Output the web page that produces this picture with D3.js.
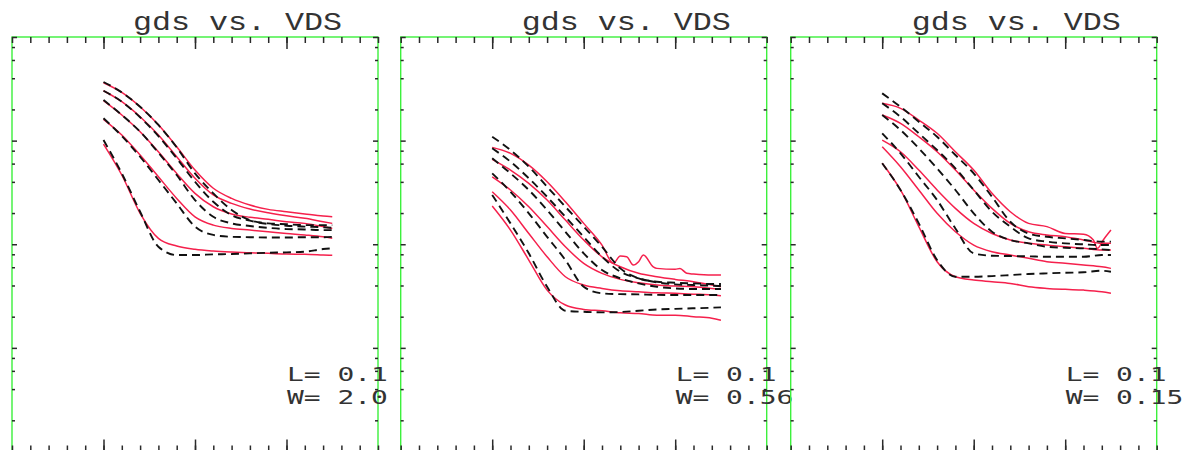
<!DOCTYPE html>
<html><head><meta charset="utf-8">
<script src="https://cdn.jsdelivr.net/npm/d3@7"></script>
<style>body{margin:0;background:#fff;} svg{display:block;overflow:visible}</style>
</head><body>
<svg id="c" width="1184" height="450"></svg>
<script>
// ---------- data ----------
const chartTitle = "gds vs. VDS";
const labelL = ["0.1", "0.1", "0.1"];
const labelW = ["2.0", "0.56", "0.15"];

// VDS (V) sweep grid shared by most curves
const vdsGrid = [0.5, 0.6, 0.7, 0.8, 0.9, 1.0, 1.1, 1.2, 1.3, 1.4, 1.5, 1.6, 1.7, 1.75];

// gds (uS) — panel 1 (W = 2.0), measured (red) and model (black dashed)
const p1Meas = [
  [3620, 2920, 2120, 1420, 873, 520, 347, 277, 239, 217, 206, 196, 187, 184],
  [3030, 2375, 1700, 1133, 699, 433, 299, 248, 219, 201, 188, 178, 165, 159],
  [2430, 1767, 1219, 781, 483, 310, 230, 196, 182, 174, 165, 159, 148, 142],
  [1606, 1133, 726, 448, 277, 184, 153, 142, 137, 132, 127, 123, 118, 114],
  [927, 466, 199, 114, 96.1, 89.3, 86.0, 84.1, 82.8, 81.7, 80.4, 79.9, 78.7, 78.1]
];
const p1Model = [
  [3680, 2920, 2120, 1416, 861, 483, 310, 214, 171, 159, 156, 153, 153, 153],
  [3030, 2375, 1679, 1108, 675, 401, 257, 191, 169, 157, 151, 148, 146, 144],
  [2466, 1767, 1219, 764, 466, 267, 184, 159, 150, 144, 140, 139, 137, 137],
  [1642, 1108, 699, 417, 248, 148, 123, 118, 117, 116, 116, 117, 117, 118],
  [1013, 483, 206, 94.6, 78.7, 78.7, 79.9, 80.4, 81.7, 82.8, 83.5, 84.7, 89.9, 91.3]
];

// panel 2 (W = 0.56)
const p2TopVds = [0.5, 0.6, 0.7, 0.8, 0.9, 1.0, 1.1, 1.162, 1.2, 1.235, 1.271, 1.3, 1.326, 1.38, 1.4, 1.5, 1.526, 1.563, 1.6, 1.7, 1.75];
const p2MeasTop = [861, 754, 581, 401, 257, 159, 98.2, 65.4, 76.9, 75.7, 63.0, 67.8, 78.7, 60.6, 58.5, 57.3, 58.5, 52.4, 51.6, 50.4, 50.4];
const p2Meas = [
  [660, 520, 387, 267, 171, 110, 75.7, 60.6, 52.4, 48.6, 45.8, 43.5, 40.4, 38.9],
  [448, 334, 230, 148, 94.6, 65.4, 52.4, 45.8, 42.5, 40.4, 39.5, 38.9, 37.5, 36.7],
  [321, 214, 127, 75.7, 48.6, 40.4, 37.5, 35.6, 34.8, 34.0, 33.6, 33.0, 32.4, 31.8],
  [234, 137, 70.4, 36.1, 25.9, 23.5, 22.8, 21.8, 21.5, 20.7, 20.7, 20.0, 19.3, 18.5]
];
const p2Model = [
  [1090, 811, 560, 359, 230, 148, 94.6, 58.5, 46.9, 43.5, 42.5, 41.9, 41.3, 41.3],
  [843, 626, 433, 287, 184, 118, 75.7, 54.3, 46.9, 42.9, 41.0, 40.4, 39.8, 39.5],
  [675, 483, 334, 214, 132, 81.7, 56.4, 46.9, 41.9, 38.9, 37.5, 37.0, 37.0, 37.0],
  [483, 321, 199, 118, 70.4, 38.9, 33.6, 33.0, 32.8, 32.5, 32.4, 32.4, 32.4, 32.4],
  [299, 159, 81.7, 38.9, 22.8, 22.3, 22.0, 22.2, 22.8, 23.5, 23.8, 24.1, 24.4, 24.6]
];

// panel 3 (W = 0.15)
const p3TopVds = [0.5, 0.6, 0.7, 0.8, 0.9, 1.0, 1.1, 1.2, 1.3, 1.4, 1.5, 1.6, 1.654, 1.676, 1.708, 1.75];
const p3MeasTop = [2291, 2050, 1581, 1177, 781, 520, 310, 206, 159, 148, 127, 125, 110, 91.3, 110, 137];
const p3Meas = [
  [1767, 1469, 1090, 781, 520, 334, 222, 159, 132, 123, 118, 110, 102, 102],
  [1013, 781, 520, 334, 222, 159, 127, 110, 102, 98.2, 94.6, 91.3, 87.9, 87.9],
  [873, 560, 334, 199, 132, 98.2, 84.7, 78.7, 73.1, 67.8, 65.4, 63.0, 60.6, 58.5],
  [604, 334, 148, 67.8, 48.6, 45.1, 43.5, 41.9, 38.9, 37.5, 36.7, 36.1, 34.8, 33.6]
];
const p3Model = [
  [2860, 2120, 1522, 1090, 726, 483, 287, 165, 127, 118, 114, 110, 106, 106],
  [2291, 1700, 1177, 811, 540, 334, 206, 148, 114, 106, 102, 99.8, 98.2, 98.2],
  [1767, 1266, 843, 540, 334, 199, 132, 110, 102, 94.6, 92.5, 91.3, 89.3, 87.9],
  [1177, 754, 448, 267, 142, 81.7, 77.5, 76.9, 76.4, 75.7, 75.7, 75.7, 78.7, 78.7],
  [604, 334, 159, 70.4, 48.6, 48.6, 49.3, 50.4, 51.6, 52.4, 53.1, 53.6, 55.5, 54.3]
];

// axis tick values
const xMinorTicks = d3.range(0, 21).map(i => i / 10);
const xMajorTicks = [0.5, 1.0, 1.5];
const yMajorTicks = [1, 10, 100, 1000, 10000];
const yMinorTicks = [1, 10, 100, 1000].flatMap(d => [2, 4, 6, 8].map(m => m * d));

// ---------- build panels ----------
const zip = (xs, ys) => xs.map((v, i) => [v, ys[i]]);
const panels = [
  { meas: p1Meas.map(s => zip(vdsGrid, s)), model: p1Model.map(s => zip(vdsGrid, s)) },
  { meas: [zip(p2TopVds, p2MeasTop)].concat(p2Meas.map(s => zip(vdsGrid, s))), model: p2Model.map(s => zip(vdsGrid, s)) },
  { meas: [zip(p3TopVds, p3MeasTop)].concat(p3Meas.map(s => zip(vdsGrid, s))), model: p3Model.map(s => zip(vdsGrid, s)) }
];

const svg = d3.select("#c");
const lefts = [12, 400.7, 790.7];
const PW = 366, topY = 37, PH = 414.5;
const x = d3.scaleLinear().domain([0, 2]).range([0, PW]);
const y = d3.scaleLog().domain([1, 10000]).range([PH, 0]);
const line = d3.line().x(d => x(d[0])).y(d => y(d[1])).curve(d3.curveMonotoneX);
const tickCol = "#2a2a2a";
const monoFont = "Liberation Mono, DejaVu Sans Mono, monospace";
const labelFont = "DejaVu Sans Mono, Liberation Mono, monospace";

function styleAxis(g) {
  g.select(".domain").remove();
  g.selectAll("line").attr("stroke", tickCol).attr("stroke-width", 1.5);
  g.selectAll("text").remove();
}

panels.forEach((p, i) => {
  const g = svg.append("g").attr("transform", `translate(${lefts[i]},${topY})`);

  g.append("rect").attr("x", 0).attr("y", 0).attr("width", PW).attr("height", PH)
    .attr("fill", "none").attr("stroke", "#3cf03c").attr("stroke-width", 1.4);

  g.append("g").call(d3.axisBottom(x).tickValues(xMinorTicks).tickSize(6).tickFormat("")).call(styleAxis);
  g.append("g").call(d3.axisBottom(x).tickValues(xMajorTicks).tickSize(12).tickFormat("")).call(styleAxis);
  g.append("g").attr("transform", `translate(0,${PH})`).call(d3.axisTop(x).tickValues(xMinorTicks).tickSize(6).tickFormat("")).call(styleAxis);
  g.append("g").attr("transform", `translate(0,${PH})`).call(d3.axisTop(x).tickValues(xMajorTicks).tickSize(12).tickFormat("")).call(styleAxis);
  g.append("g").call(d3.axisRight(y).tickValues(yMinorTicks).tickSize(3).tickFormat("")).call(styleAxis);
  g.append("g").call(d3.axisRight(y).tickValues(yMajorTicks).tickSize(5).tickFormat("")).call(styleAxis);
  g.append("g").attr("transform", `translate(${PW},0)`).call(d3.axisLeft(y).tickValues(yMinorTicks).tickSize(3).tickFormat("")).call(styleAxis);
  g.append("g").attr("transform", `translate(${PW},0)`).call(d3.axisLeft(y).tickValues(yMajorTicks).tickSize(5).tickFormat("")).call(styleAxis);

  g.selectAll(".meas").data(p.meas).join("path").attr("class", "meas")
    .attr("d", line).attr("fill", "none").attr("stroke", "#f5204c").attr("stroke-width", 1.5);
  g.selectAll(".model").data(p.model).join("path").attr("class", "model")
    .attr("d", line).attr("fill", "none").attr("stroke", "#111").attr("stroke-width", 1.9)
    .attr("stroke-dasharray", "8,5");

  g.append("text").attr("x", 121).attr("y", 30 - topY)
    .attr("font-family", monoFont).attr("font-size", 25)
    .attr("fill", "#333").attr("textLength", 209).attr("lengthAdjust", "spacingAndGlyphs")
    .text(chartTitle);

  // L / W labels
  const tL = "L= " + labelL[i], tW = "W= " + labelW[i];
  g.append("text").attr("x", 275).attr("y", 381 - topY)
    .attr("font-family", labelFont).attr("font-size", 18.8).attr("fill", "#333")
    .attr("textLength", tL.length * 16.8).attr("lengthAdjust", "spacingAndGlyphs").text(tL);
  g.append("text").attr("x", 275).attr("y", 403.5 - topY)
    .attr("font-family", labelFont).attr("font-size", 18.8).attr("fill", "#333")
    .attr("textLength", tW.length * 16.8).attr("lengthAdjust", "spacingAndGlyphs").text(tW);
});
</script>
</body></html>
